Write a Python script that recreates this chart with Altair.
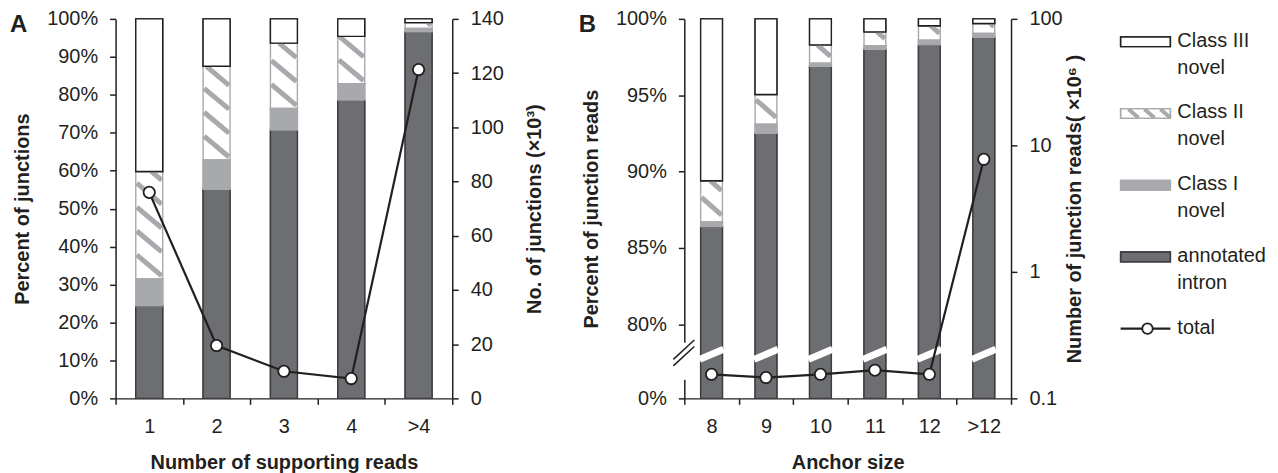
import altair as alt
import pandas as pd

# ---------------- data ----------------
cats_a = ["1", "2", "3", "4", ">4"]
annot_a = [24.4, 55.1, 70.7, 78.6, 96.6]
class1_a = [7.1, 7.7, 5.7, 4.3, 0.9]
class2_a = [28.3, 24.7, 17.2, 12.5, 1.5]
class3_a = [40.2, 12.5, 6.4, 4.6, 1.0]
total_a = [76.0, 19.5, 10.0, 7.3, 121.3]

cats_b = ["8", "9", "10", "11", "12", ">12"]
annot_b = [86.4, 92.5, 96.9, 98.0, 98.3, 98.8]
class1_b = [0.3, 0.6, 0.2, 0.25, 0.3, 0.25]
class2_b = [2.7, 1.95, 1.2, 0.9, 0.95, 0.65]
class3_b = [10.6, 4.95, 1.7, 0.85, 0.45, 0.3]
total_b = [0.155, 0.146, 0.155, 0.167, 0.155, 7.76]

classes = ["annotated intron", "Class I novel", "Class II novel", "Class III novel"]
legend_order = ["Class III novel", "Class II novel", "Class I novel", "annotated intron", "total"]
legend_text = ["Class III\nnovel", "Class II\nnovel", "Class I\nnovel", "annotated\nintron", "total"]

ticks_a_left = [0, 10, 20, 30, 40, 50, 60, 70, 80, 90, 100]
ticks_a_right = [0, 20, 40, 60, 80, 100, 120, 140]
ticks_b_left = [0, 80, 85, 90, 95, 100]
ticks_b_right = [0.1, 1, 10, 100]

# ---------------- style ----------------
INK = "#231f20"
DARK = "#6d6e71"
LIGHT = "#a7a9ac"
FONT = "Liberation Sans"
H = 381
HALF = 0.2


def long_df(cats, series):
    rows = []
    for i, c in enumerate(cats):
        for o, (cls, vals) in enumerate(zip(classes, series)):
            rows.append({"cat": c, "i": i, "cls": cls, "ord": o, "value": vals[i]})
    return pd.DataFrame(rows)


df_a = long_df(cats_a, [annot_a, class1_a, class2_a, class3_a])
df_b = long_df(cats_b, [annot_b, class1_b, class2_b, class3_b])
tot_a = pd.DataFrame({"cat": cats_a, "i": list(range(len(cats_a))), "total": total_a})
tot_b = pd.DataFrame({"cat": cats_b, "i": list(range(len(cats_b))), "total": total_b})


def panel(df, tot, cats, width, yscale, yvals, ytitle, xtitle, strokes,
          span, period, rscale, rvals, rtitle, rformat, rpad, letter, broken=False):
    n = len(cats)
    xband = alt.Scale(domain=cats, paddingInner=0, paddingOuter=0)
    xlin = alt.Scale(domain=[-0.5, n - 0.5], nice=False, zero=False)
    stacked = alt.Chart(df).transform_stack(
        stack="value", groupby=["cat"],
        sort=[alt.SortField(field="ord", order="ascending")], as_=["y0", "y1"])
    fill_scale = alt.Scale(domain=classes, range=[DARK, LIGHT, "#ffffff", "#ffffff"])
    stroke_scale = alt.Scale(domain=classes, range=strokes)
    xaxis = alt.Axis(title=xtitle, tickBand="extent", labelAngle=0, titlePadding=16)
    yaxis = alt.Axis(title=ytitle, values=yvals, labelExpr="datum.value + '%'",
                     titlePadding=14)

    def bars(axis_on, filt=None):
        ch = stacked
        if filt:
            ch = ch.transform_filter(filt)
        return ch.mark_bar(width={"band": 0.4}, strokeWidth=1.4).encode(
            x=alt.X("cat:N", sort=cats, scale=xband, axis=xaxis if axis_on else None),
            y=alt.Y("y0:Q", scale=yscale, axis=yaxis if axis_on else None),
            y2="y1:Q",
            fill=alt.Fill("cls:N", scale=fill_scale, legend=None),
            stroke=alt.Stroke("cls:N", scale=stroke_scale, legend=None),
        )

    hs = HALF - 0.015
    stripes = stacked.transform_filter(f"datum.cls == '{classes[2]}'").transform_calculate(
        k=f"sequence(0, ceil((datum.y1 - datum.y0 + {span}) / {period}) + 1)"
    ).transform_flatten(["k"]).transform_calculate(
        a=f"datum.y0 + datum.k * {period}"
    ).transform_calculate(
        t0=f"max(0, (datum.a - datum.y1) / {span})",
        t1=f"min(1, (datum.a - datum.y0) / {span})",
    ).transform_filter("datum.t1 > datum.t0").transform_calculate(
        xs=f"datum.i - {hs} + {2 * hs} * datum.t0",
        xe=f"datum.i - {hs} + {2 * hs} * datum.t1",
        ys=f"datum.a - {span} * datum.t0",
        ye=f"datum.a - {span} * datum.t1",
    ).mark_rule(stroke=LIGHT, strokeWidth=5, strokeCap="butt").encode(
        x=alt.X("xs:Q", scale=xlin, axis=None), x2="xe:Q",
        y=alt.Y("ys:Q", scale=yscale, axis=None), y2="ye:Q",
    )

    layers = [bars(True), stripes, bars(False, f"datum.cls != '{classes[2]}'")]

    if broken:
        brk = alt.Chart(tot).transform_calculate(
            xl=f"datum.i - {HALF + 0.02}", xr=f"datum.i + {HALF + 0.02}"
        ).mark_rule(stroke="white", strokeWidth=7).encode(
            x=alt.X("xl:Q", scale=xlin, axis=None), x2="xr:Q",
            y=alt.YDatum(42, scale=yscale, axis=None), y2=alt.Y2Datum(53),
        )
        one = pd.DataFrame({"d": [0]})
        gap = alt.Chart(one).mark_rule(stroke="white", strokeWidth=5).encode(
            x=alt.value(0), y=alt.YDatum(20, scale=yscale, axis=None), y2=alt.Y2Datum(60))
        sl1 = alt.Chart(one).mark_rule(stroke=INK, strokeWidth=1.5).encode(
            x=alt.value(-11), x2=alt.value(10),
            y=alt.YDatum(35, scale=yscale, axis=None), y2=alt.Y2Datum(56))
        sl2 = alt.Chart(one).mark_rule(stroke=INK, strokeWidth=1.5).encode(
            x=alt.value(-11), x2=alt.value(10),
            y=alt.YDatum(42, scale=yscale, axis=None), y2=alt.Y2Datum(63))
        layers += [brk, gap, sl1, sl2]

    line = alt.Chart(tot).mark_line(color=INK, strokeWidth=2.2).encode(
        x=alt.X("cat:N", sort=cats, scale=xband, axis=None),
        y=alt.Y("total:Q", scale=rscale,
                axis=alt.Axis(orient="right", title=rtitle, values=rvals, format=rformat,
                              titleAngle=270, titleBaseline="top", titlePadding=rpad)),
    )
    pts = alt.Chart(tot).mark_point(filled=True, fill="white", stroke=INK, strokeWidth=1.8,
                                    size=130, opacity=1).encode(
        x=alt.X("cat:N", sort=cats, scale=xband, axis=None),
        y=alt.Y("total:Q", scale=rscale, axis=None),
    )
    lab = alt.Chart(pd.DataFrame({"t": [letter]})).mark_text(
        fontSize=24, fontWeight="bold", align="left", baseline="alphabetic", color=INK
    ).encode(x=alt.value(-106), y=alt.value(13), text="t:N")
    layers += [line, pts, lab]
    return alt.layer(*layers).resolve_scale(x="independent", y="independent").properties(
        width=width, height=H)


ys_a = alt.Scale(domain=[0, 100], nice=False, zero=False)
ys_b = alt.Scale(domain=[0, 80, 100], range=[H, 306.5, 0], nice=False, zero=False)

pa = panel(df_a, tot_a, cats_a, 338, ys_a, ticks_a_left, "Percent of junctions",
           "Number of supporting reads", ["#3d3d3f", LIGHT, LIGHT, INK],
           5.5, 6.3, alt.Scale(domain=[0, 140], nice=False), ticks_a_right,
           "No. of junctions (×10³)", "d", 21, "A")
pb = panel(df_b, tot_b, cats_b, 328, ys_b, ticks_b_left, "Percent of junction reads",
           "Anchor size", [INK, INK, INK, INK],
           1.15, 1.6, alt.Scale(type="log", domain=[0.1, 100], nice=False), ticks_b_right,
           "Number of junction reads( ×10⁶ )", "~g", 2, "B", broken=True)

# ---------------- legend panel ----------------
leg = pd.DataFrame({"item": legend_order, "label": legend_text, "li": list(range(5))})
ly = alt.Scale(domain=[0, 4], range=[23, 311], nice=False, zero=False)
lx = alt.Scale(domain=[0, 150], range=[0, 150], nice=False, zero=False)
sw_fill = alt.Scale(domain=legend_order[:4], range=["#ffffff", "#ffffff", LIGHT, DARK])
sw_stroke = alt.Scale(domain=legend_order[:4], range=[INK, "#58595b", INK, INK])

sw_base = alt.Chart(leg).transform_filter("datum.li < 4").transform_calculate(
    s0="datum.li - 0.068", s1="datum.li + 0.068")
sw = sw_base.mark_rect(strokeWidth=1.4).encode(
    x=alt.value(0), x2=alt.value(50),
    y=alt.Y("s0:Q", scale=ly, axis=None), y2="s1:Q",
    fill=alt.Fill("item:N", scale=sw_fill, legend=None),
    stroke=alt.Stroke("item:N", scale=sw_stroke, legend=None),
)
hatch = alt.Chart(leg).transform_filter("datum.li == 1").transform_calculate(
    k="sequence(0, 3)").transform_flatten(["k"]).transform_calculate(
    hx0="8 + datum.k * 16", hx1="18 + datum.k * 16",
    hy0="datum.li - 0.06", hy1="datum.li + 0.06",
).mark_rule(stroke=LIGHT, strokeWidth=4).encode(
    x=alt.X("hx0:Q", scale=lx, axis=None), x2="hx1:Q",
    y=alt.Y("hy0:Q", scale=ly, axis=None), y2="hy1:Q",
)
sw_out = sw_base.mark_rect(strokeWidth=1.4, fillOpacity=0).encode(
    x=alt.value(0), x2=alt.value(50),
    y=alt.Y("s0:Q", scale=ly, axis=None), y2="s1:Q",
    stroke=alt.Stroke("item:N", scale=sw_stroke, legend=None),
)
txt = alt.Chart(leg).mark_text(align="left", baseline="top", dy=-11, fontSize=20,
                               lineBreak="\n", lineHeight=27, color=INK).encode(
    x=alt.value(57), y=alt.Y("li:Q", scale=ly, axis=None), text="label:N")
tl = alt.Chart(leg).transform_filter("datum.li == 4").mark_rule(color=INK, strokeWidth=2.2).encode(
    x=alt.value(0), x2=alt.value(50), y=alt.Y("li:Q", scale=ly, axis=None))
tp = alt.Chart(leg).transform_filter("datum.li == 4").mark_point(
    filled=True, fill="white", stroke=INK, strokeWidth=1.8, size=110, opacity=1).encode(
    x=alt.value(27), y=alt.Y("li:Q", scale=ly, axis=None))
legend = alt.layer(sw, hatch, sw_out, txt, tl, tp).properties(width=150, height=H)

chart = alt.hconcat(pa, pb, legend, spacing=34).properties(
    padding={"left": 2, "top": 0, "right": 0, "bottom": 0}
).configure(font=FONT).configure_view(stroke=None).configure_axis(
    labelFontSize=20, titleFontSize=20, titleFontWeight="bold", labelColor=INK,
    titleColor=INK, domainColor=INK, tickColor=INK, domainWidth=1.5, tickWidth=1.5,
    tickSize=6, labelPadding=12, grid=False, labelFont=FONT, titleFont=FONT,
)

chart.save("out.html", embed_options={"renderer": "svg", "actions": False})
